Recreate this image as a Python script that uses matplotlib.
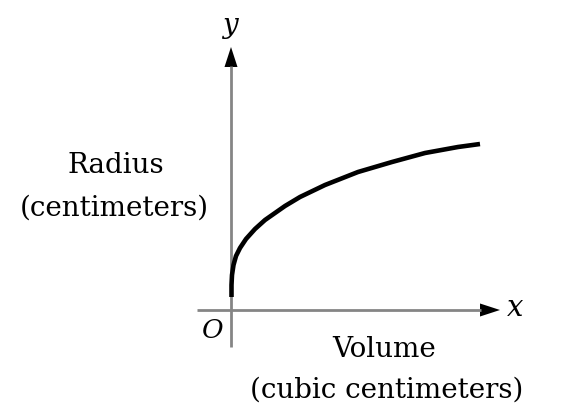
import matplotlib.pyplot as plt

volume = [0.5, 0.5, 1, 2.5, 5, 9, 15, 24, 34, 44, 54, 69, 94, 127, 161, 194, 227, 249]
radius = [13, 25, 35, 45, 54, 62, 71, 81, 90, 97, 104, 113, 125, 138, 148, 157, 163, 166]

fig = plt.figure(figsize=(5.74, 4.17), dpi=100)
ax = fig.add_axes([0, 0, 1, 1])
# one data unit == one pixel, origin where the axes cross
ax.set_xlim(-231, 343)
ax.set_ylim(-107, 310)
ax.axis('off')

axis_col = '#858585'
ax.plot([-34, 250], [0, 0], color=axis_col, lw=2.0, solid_capstyle='butt')
ax.plot([0, 0], [-37, 244], color=axis_col, lw=2.0, solid_capstyle='butt')
# arrowheads
ax.arrow(249, 0, 0.01, 0, head_width=13, head_length=20, color='black',
         length_includes_head=False, lw=0)
ax.arrow(0, 243, 0, 0.01, head_width=13, head_length=20, color='black',
         length_includes_head=False, lw=0)

ax.plot(volume, radius, color='black', lw=3.3, solid_capstyle='butt',
        solid_joinstyle='round')

serif = 'DejaVu Serif'
ax.text(-1, 285, 'y', fontsize=20, fontstyle='italic', family=serif,
        ha='center', va='center')
ax.text(284, 2, 'x', fontsize=21, fontstyle='italic', family=serif,
        ha='center', va='center')
ax.text(-18, -20, 'O', fontsize=19, fontstyle='italic', family=serif,
        ha='center', va='center')

fs = 20
ax.text(-115, 137, 'Radius', fontsize=fs, family=serif,
        ha='center', va='baseline')
ax.text(-117, 94, '(centimeters)', fontsize=fs, family=serif,
        ha='center', va='baseline')
ax.text(153, -47, 'Volume', fontsize=fs, family=serif,
        ha='center', va='baseline')
ax.text(156, -88, '(cubic centimeters)', fontsize=fs, family=serif,
        ha='center', va='baseline')

fig.savefig('out.png', dpi=100)
